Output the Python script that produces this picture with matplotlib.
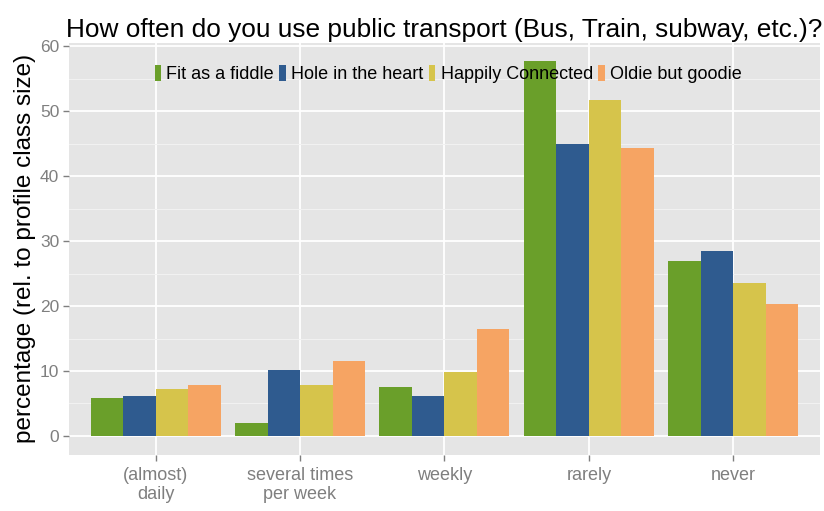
import numpy as np
import matplotlib
matplotlib.use("Agg")
import matplotlib.pyplot as plt
from matplotlib.patches import Patch
from matplotlib.ticker import MultipleLocator

plt.rcParams['font.family'] = ['Liberation Sans', 'DejaVu Sans']

# data
categories = ["(almost)\ndaily", "several times\nper week", "weekly", "rarely", "never"]
groups = ["Fit as a fiddle", "Hole in the heart", "Happily Connected", "Oldie but goodie"]
fit_as_a_fiddle = [5.8, 2.0, 7.6, 57.7, 27.0]
hole_in_the_heart = [6.1, 10.2, 6.1, 44.9, 28.5]
happily_connected = [7.3, 7.9, 9.9, 51.7, 23.5]
oldie_but_goodie = [7.8, 11.6, 16.4, 44.3, 20.3]
colors = ["#6a9f2a", "#2f5b8f", "#d6c44b", "#f6a463"]

series = [fit_as_a_fiddle, hole_in_the_heart, happily_connected, oldie_but_goodie]

fig = plt.figure(figsize=(8.24, 5.11), dpi=100)
ax = fig.add_axes([0.0837, 0.110, 0.9113, 0.806])
ax.set_facecolor("#e5e5e5")

x = np.arange(len(categories))
w = 0.225
for i, vals in enumerate(series):
    ax.bar(x + (i - 1.5) * w, vals, width=w, color=colors[i], zorder=3)

ax.set_xlim(-0.6, len(categories) - 0.4)
ax.set_ylim(-2.9, 60.5)
ax.yaxis.set_major_locator(MultipleLocator(10))
ax.yaxis.set_minor_locator(MultipleLocator(5))
ax.set_xticks(x)
ax.set_xticklabels(categories, linespacing=1.15)
ax.grid(which="major", color="white", linewidth=1.3, zorder=1)
ax.grid(which="minor", axis="y", color="#f2f2f2", linewidth=0.7, zorder=1)
for s in ax.spines.values():
    s.set_visible(False)
ax.tick_params(which="major", length=4, color="#7f7f7f", labelcolor="#7f7f7f",
               labelsize=12.5, width=1, pad=3)
ax.tick_params(axis="x", which="major", labelsize=13, pad=5)
ax.tick_params(which="minor", length=0)

ax.set_ylabel("percentage (rel. to profile class size)", fontsize=17.5, labelpad=3)
ax.set_title("How often do you use public transport (Bus, Train, subway, etc.)?",
             fontsize=18.9, pad=4)

handles = [Patch(facecolor=c, edgecolor="none") for c in colors]
ax.legend(handles, groups, loc="center", bbox_to_anchor=(0.505, 0.925), ncol=4,
          frameon=False, fontsize=13, handlelength=0.35, handleheight=1.0,
          handletextpad=0.3, columnspacing=0.3, borderpad=0)

fig.savefig("out.png", dpi=100)
